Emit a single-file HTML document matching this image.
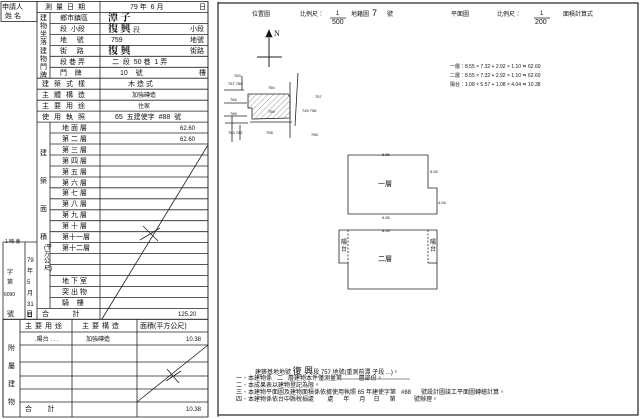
<!DOCTYPE html>
<html><head><meta charset="utf-8"><style>
html,body{margin:0;padding:0;background:#fff;}
body{width:640px;height:419px;position:relative;overflow:hidden;font-family:"Liberation Sans","Noto Sans CJK TC",sans-serif;color:#111;}
.t{position:absolute;font-size:7px;line-height:8px;white-space:nowrap;}
.h{font-size:10px;line-height:11px;font-family:"Liberation Serif","Noto Serif CJK SC",serif;font-weight:bold;}
svg{position:absolute;left:0;top:0;}
</style></head><body>
<svg width="640" height="419" viewBox="0 0 640 419" stroke="#222" fill="none" stroke-width="0.8">
<!-- left table -->
<rect x="37" y="1.5" width="171" height="317.8"/>
<g id="rows"></g>
<!-- applicant box -->
<rect x="1" y="1.5" width="36" height="20"/>
<!-- row lines -->
<path d="M37 12.5H208 M50 23.4H208 M50 34.4H208 M50 45.4H208 M50 56.3H208 M50 67.3H208 M37 78.2H208 M37 89.2H208 M37 100.2H208 M37 111.1H208 M37 122.1H208
M50 133H208 M50 144H208 M50 155H208 M50 166H208 M50 177H208 M50 187.8H208 M50 198.8H208 M50 209.8H208 M50 220.7H208 M50 231.7H208 M50 242.6H208 M50 253.6H208 M50 264.6H208 M50 275.5H208 M50 286.5H208 M50 297.4H208 M37 308.4H208"/>
<path d="M100 1.5V319.3 M50 12.5V78.2 M50 122.1V308.4"/>
<!-- date box left -->
<path d="M3 242V417 M3 242H37 M25 242V319.3 M3 319.3H37"/>
<!-- attached section -->
<rect x="3" y="319.3" width="205" height="97.7"/>
<path d="M20 332H208 M20 345H208 M20 362H208 M20 376H208 M20 389H208 M20 402H208 M20 319.3V417 M72 319.3V417 M137 319.3V417"/>
<!-- diagonals -->
<path d="M208 145L102 319 M143 226L158 241 M140 240L160 228"/>
<path d="M208 345L137 402 M167 369L179 383 M166 381L181 371"/>
<!-- right panel -->
<path d="M208 1.5V417 M218 1.5V417"/>
<rect x="218" y="3" width="420" height="412" stroke-width="1.2"/>
<!-- fractions -->
<path d="M330 18H346 M534 18H550"/>
<!-- compass -->
<path d="M257 57H282 M269 38V67" stroke-width="1"/>
<polygon points="269,30 266,37 272,37" fill="#111"/>
<!-- cadastral -->
<path d="M224 90H244 M224 103H247 M224 116H247 M225 123H248 M232 116V142 M240 125V140 M242 76V90 M298 73L295 126 M290 82V138 M250 122H292"/>
<polygon points="248,94 288,94 290,97 290,118 252,119 252,108 248,108" fill="url(#hatch)" stroke="#222"/>
<defs><pattern id="hatch" width="4" height="4" patternUnits="userSpaceOnUse" patternTransform="rotate(45)"><line x1="0" y1="0" x2="0" y2="4" stroke="#555" stroke-width="0.6"/></pattern></defs>
<!-- floor 1 -->
<polygon points="348,155 428,155 428,188 437,188 437,214 348,214" stroke="#222"/>
<!-- floor 2 -->
<path d="M339 230H437V289H348V263H339Z"/>
<path d="M348 230V263 M428 230V263" stroke-dasharray="2,1.5"/>
<path d="M428 263H437"/>
</svg>
<!-- left table texts -->
<div class="t" style="left:2px;top:4px;">申請人</div>
<div class="t" style="left:5px;top:13px;">姓 名</div>
<div class="t" style="left:45px;top:4px;letter-spacing:4px;">測量日期</div>
<div class="t" style="left:130px;top:4px;">79 年 &nbsp;6 月</div>
<div class="t" style="left:199px;top:4px;">日</div>
<div class="t" style="left:40px;top:15px;width:8px;white-space:normal;line-height:8px;">建物坐落</div>
<div class="t" style="left:60px;top:15px;">鄉市鎮區</div>
<div class="t h" style="left:108px;top:13px;">潭 子</div>
<div class="t" style="left:60px;top:26px;">段 &nbsp;小段</div>
<div class="t h" style="left:108px;top:24px;">復 興 <span style="font-size:7px;font-weight:normal">段</span></div>
<div class="t" style="left:190px;top:26px;">小段</div>
<div class="t" style="left:60px;top:37px;">地 &nbsp;&nbsp;&nbsp;&nbsp;號</div>
<div class="t" style="left:111px;top:37px;">759</div>
<div class="t" style="left:190px;top:37px;">地號</div>
<div class="t" style="left:40px;top:48px;width:8px;white-space:normal;">建物門牌</div>
<div class="t" style="left:60px;top:48px;">街 &nbsp;&nbsp;&nbsp;&nbsp;路</div>
<div class="t h" style="left:108px;top:46px;">復 興</div>
<div class="t" style="left:190px;top:48px;">街路</div>
<div class="t" style="left:60px;top:59px;">段 巷 弄</div>
<div class="t" style="left:112px;top:59px;">二 &nbsp;段 &nbsp;50 巷 &nbsp;1 弄</div>
<div class="t" style="left:60px;top:70px;">門 &nbsp;&nbsp;&nbsp;牌</div>
<div class="t" style="left:120px;top:70px;">10 &nbsp;&nbsp;&nbsp;號</div>
<div class="t" style="left:199px;top:70px;">樓</div>
<div class="t" style="left:42px;top:81px;letter-spacing:5px;">建築式樣</div>
<div class="t" style="left:128px;top:81px;">木 造 式</div>
<div class="t" style="left:42px;top:92px;letter-spacing:5px;">主體構造</div>
<div class="t" style="left:132px;top:92px;font-size:6px;">加強磚造</div>
<div class="t" style="left:42px;top:103px;letter-spacing:5px;">主要用途</div>
<div class="t" style="left:138px;top:103px;font-size:6px;">住家</div>
<div class="t" style="left:42px;top:114px;letter-spacing:5px;">使用執照</div>
<div class="t" style="left:115px;top:114px;">65 &nbsp;五建使字 &nbsp;#88 &nbsp;號</div>
<div class="t" style="left:40px;top:140px;width:8px;white-space:normal;line-height:28px;">建築面積</div>
<div class="t" style="left:44px;top:245px;width:5px;white-space:normal;font-size:6px;line-height:7px;">(平方公尺)</div>
<div class="t" style="left:62px;top:125px;">地 面 層</div><div class="t" style="left:180px;top:125px;font-size:6px;">62.60</div>
<div class="t" style="left:62px;top:136px;">第 二 層</div><div class="t" style="left:180px;top:136px;font-size:6px;">62.60</div>
<div class="t" style="left:62px;top:147px;">第 三 層</div>
<div class="t" style="left:62px;top:158px;">第 四 層</div>
<div class="t" style="left:62px;top:169px;">第 五 層</div>
<div class="t" style="left:62px;top:180px;">第 六 層</div>
<div class="t" style="left:62px;top:190px;">第 七 層</div>
<div class="t" style="left:62px;top:201px;">第 八 層</div>
<div class="t" style="left:62px;top:212px;">第 九 層</div>
<div class="t" style="left:62px;top:223px;">第 十 層</div>
<div class="t" style="left:62px;top:234px;">第十一層</div>
<div class="t" style="left:62px;top:245px;">第十二層</div>
<div class="t" style="left:62px;top:278px;">地 下 室</div>
<div class="t" style="left:62px;top:289px;">突 出 物</div>
<div class="t" style="left:62px;top:300px;">騎 &nbsp;&nbsp;&nbsp;樓</div>
<div class="t" style="left:42px;top:311px;">合 &nbsp;&nbsp;&nbsp;&nbsp;&nbsp;&nbsp;&nbsp;&nbsp;&nbsp;&nbsp;&nbsp;計</div>
<div class="t" style="left:178px;top:311px;font-size:6px;">125.20</div>
<div class="t" style="left:5px;top:238px;font-size:5px;">1 時 會</div>
<div class="t" style="left:27px;top:256px;width:8px;white-space:normal;font-size:6px;line-height:11px;">79年5月31日</div>
<div class="t" style="left:7px;top:268px;width:8px;white-space:normal;font-size:6px;line-height:10px;">字第</div>
<div class="t" style="left:4px;top:291px;font-size:5px;">6090</div>
<div class="t" style="left:7px;top:311px;">號</div>
<div class="t" style="left:26px;top:311px;">日</div>
<!-- attached -->
<div class="t" style="left:8px;top:340px;width:8px;white-space:normal;line-height:18px;">附屬建物</div>
<div class="t" style="left:25px;top:323px;letter-spacing:3px;">主要用途</div>
<div class="t" style="left:82px;top:323px;letter-spacing:3px;">主要構造</div>
<div class="t" style="left:140px;top:323px;">面積(平方公尺)</div>
<div class="t" style="left:35px;top:336px;font-size:6px;">.陽台 . . .</div>
<div class="t" style="left:86px;top:336px;font-size:6px;">加強磚造</div>
<div class="t" style="left:186px;top:336px;font-size:6px;">10.38</div>
<div class="t" style="left:25px;top:406px;">合 &nbsp;&nbsp;&nbsp;&nbsp;&nbsp;&nbsp;&nbsp;計</div>
<div class="t" style="left:186px;top:406px;font-size:6px;">10.38</div>
<!-- right panel top -->
<div class="t" style="left:252px;top:11px;font-size:6px;">位置圖</div>
<div class="t" style="left:300px;top:11px;font-size:6px;">比例尺：</div>
<div class="t" style="left:336px;top:10px;font-size:6px;">1</div>
<div class="t" style="left:332px;top:19px;">500</div>
<div class="t" style="left:351px;top:11px;font-size:6px;">地籍圖</div>
<div class="t" style="left:372px;top:9px;font-size:9px;">7</div>
<div class="t" style="left:387px;top:11px;font-size:6px;">號</div>
<div class="t" style="left:451px;top:11px;font-size:6px;">平面圖</div>
<div class="t" style="left:497px;top:11px;font-size:6px;">比例尺：</div>
<div class="t" style="left:540px;top:10px;font-size:6px;">1</div>
<div class="t" style="left:535px;top:19px;">200</div>
<div class="t" style="left:563px;top:11px;font-size:6px;">面積計算式</div>
<div class="t" style="left:274px;top:30px;font-size:8px;font-family:'Liberation Serif',serif;">N</div>
<div class="t" style="left:450px;top:63px;font-size:5px;">一層：8.55 × 7.32 + 2.92 × 1.10 ≒ 62.60</div>
<div class="t" style="left:450px;top:72px;font-size:5px;">二層：8.55 × 7.32 + 2.92 × 1.10 ≒ 62.60</div>
<div class="t" style="left:450px;top:81px;font-size:5px;">陽台：1.08 × 5.57 + 1.08 × 4.04 ≒ 10.38</div>
<!-- cadastral labels -->
<div class="t" style="left:234px;top:72px;font-size:4px;">763</div>
<div class="t" style="left:228px;top:80px;font-size:4px;">767 768</div>
<div class="t" style="left:268px;top:84px;font-size:4px;">760</div>
<div class="t" style="left:230px;top:96px;font-size:4px;">766</div>
<div class="t" style="left:315px;top:93px;font-size:4px;">757</div>
<div class="t" style="left:230px;top:110px;font-size:4px;">765</div>
<div class="t" style="left:268px;top:108px;font-size:4px;">759</div>
<div class="t" style="left:302px;top:107px;font-size:4px;">745 758</div>
<div class="t" style="left:228px;top:129px;font-size:4px;">764 762</div>
<div class="t" style="left:266px;top:129px;font-size:4px;">758</div>
<div class="t" style="left:311px;top:131px;font-size:4px;">756</div>
<!-- floor plan labels -->
<div class="t" style="left:378px;top:181px;font-size:7px;">一層</div>
<div class="t" style="left:378px;top:256px;font-size:7px;">二層</div>
<div class="t" style="left:341px;top:240px;font-size:6px;width:6px;white-space:normal;line-height:7px;">陽台</div>
<div class="t" style="left:430px;top:240px;font-size:6px;width:6px;white-space:normal;line-height:7px;">陽台</div>
<div class="t" style="left:382px;top:151px;font-size:4px;">8.55</div>
<div class="t" style="left:382px;top:214px;font-size:4px;">9.55</div>
<div class="t" style="left:382px;top:227px;font-size:4px;">8.55</div>
<div class="t" style="left:430px;top:168px;font-size:4px;">5.54</div>
<div class="t" style="left:438px;top:199px;font-size:4px;">4.04</div>
<!-- bottom notes -->
<div class="t" style="left:255px;top:367px;font-size:6px;">建築基地地號 <span style="font-size:9px">復 興</span>段 757 地號(重測前潭 子段 ...)。</div>
<div class="t" style="left:236px;top:375px;font-size:6px;">一、本建物係 &nbsp;&nbsp;二 &nbsp;&nbsp;層建物本件僅測量第 &nbsp;&nbsp;&nbsp;&nbsp;&nbsp;&nbsp;&nbsp;&nbsp;&nbsp;層部份。</div>
<div class="t" style="left:236px;top:382px;font-size:6px;">二、本成果表以建物登記為限。</div>
<div class="t" style="left:236px;top:389px;font-size:6px;">三、本建物平面圖及建物面積係依據使用執照 65 年建使字第 &nbsp;&nbsp;#88 &nbsp;&nbsp;&nbsp;&nbsp;&nbsp;號設計圖竣工平面圖轉繪計算。</div>
<div class="t" style="left:236px;top:396px;font-size:6px;">四、本建物係依台中縣稅捐處 &nbsp;&nbsp;&nbsp;&nbsp;&nbsp;&nbsp;&nbsp;處 &nbsp;&nbsp;&nbsp;&nbsp;&nbsp;年 &nbsp;&nbsp;&nbsp;&nbsp;&nbsp;月 &nbsp;&nbsp;&nbsp;&nbsp;日 &nbsp;&nbsp;&nbsp;&nbsp;&nbsp;第 &nbsp;&nbsp;&nbsp;&nbsp;&nbsp;&nbsp;&nbsp;&nbsp;&nbsp;&nbsp;號辦理。</div>
<svg width="640" height="419" stroke="#222" stroke-width="0.6"><path d="M340 379H410"/></svg>
</body></html>
